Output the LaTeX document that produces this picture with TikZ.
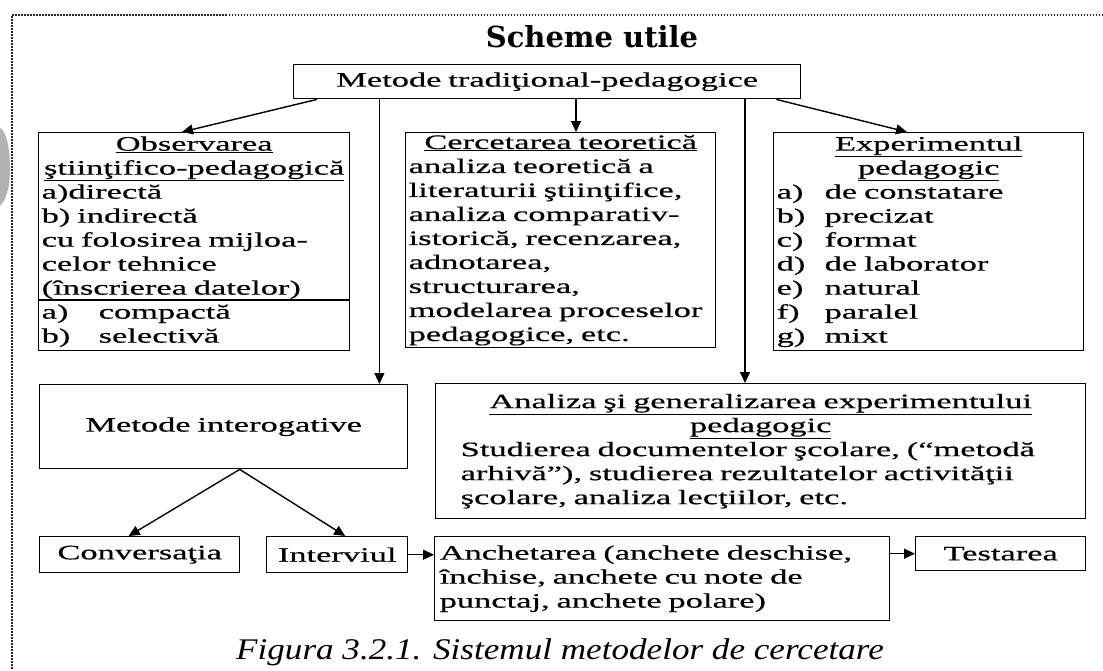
\documentclass[tikz,border=0pt]{standalone}
\usepackage{fontspec}
\usetikzlibrary{arrows.meta,calc}
\newfontfamily\bodyfont[FakeStretch=1.68,FakeBold=0.5]{Liberation Serif}
\newfontfamily\titlefont{DejaVu Serif}
\newfontfamily\capfont[FakeStretch=1.17]{Liberation Serif}
\newcommand\ctrline[1]{\makebox[\linewidth]{#1}}
\newcommand\lbl[2]{\makebox[#1][l]{#2}}

\tikzset{
  box/.style={draw, line width=1.4pt, anchor=north west, inner xsep=3pt,
    inner ysep=0pt, align=left,
    font=\bodyfont\fontsize{20.5}{24}\selectfont},
  cbox/.style={box, align=center},
  arr/.style={line width=1.4pt, -{Triangle[length=11pt,width=10pt]}},
  frame/.style={line width=1.5pt, black!85, dash pattern=on 1.5pt off 1.5pt},
}

\begin{document}
\begin{tikzpicture}[x=1pt,y=-1pt]
\useasboundingbox (0,0) rectangle (1103,670);

% page frame and margin mark
\draw[frame] (1103,15) -- (12,15) -- (12,670);
\fill[black!30] (0,128) .. controls (7,132) and (10,150) .. (10,168)
  .. controls (10,188) and (6,200) .. (0,206) -- cycle;

% title
\node[font=\titlefont\bfseries\fontsize{29}{34}\selectfont, anchor=base]
  (title) at (592,47) {Scheme utile};

% top box
\node[cbox, text width=501pt, minimum height=34pt] (top) at (293,64)
  {Metode tradiţional-pedagogice};

% first row
\node[box, text width=305pt, minimum height=218pt] (obs) at (38,132) {%
  \ctrline{\underline{Observarea}}\\
  \ctrline{\underline{ştiinţifico-pedagogică}}\\
  a)directă\\
  b) indirectă\\
  cu folosirea mijloa-\\
  celor tehnice\\
  (înscrierea datelor)\\
  \lbl{57pt}{a)}compactă\\
  \lbl{57pt}{b)}selectivă};
\draw[line width=1.4pt] (obs.west |- 0,300) -- (obs.east |- 0,300);

\node[box, text width=304pt, minimum height=215pt] (cer) at (405,132) {%
  \ctrline{\underline{Cercetarea teoretică}}\\
  analiza teoretică a\\
  literaturii ştiinţifice,\\
  analiza comparativ-\\
  istorică, recenzarea,\\
  adnotarea,\\
  structurarea,\\
  modelarea proceselor\\
  pedagogice, etc.};

\node[box, text width=304pt, minimum height=218pt] (exp) at (773,132) {%
  \ctrline{\underline{Experimentul}}\\
  \ctrline{\underline{pedagogic}}\\
  \lbl{48pt}{a)}de constatare\\
  \lbl{48pt}{b)}precizat\\
  \lbl{48pt}{c)}format\\
  \lbl{48pt}{d)}de laborator\\
  \lbl{48pt}{e)}natural\\
  \lbl{48pt}{f)}paralel\\
  \lbl{48pt}{g)}mixt};

% second row
\node[cbox, text width=362pt, minimum height=84pt] (inter) at (39,384)
  {Metode interogative};

\node[box, inner xsep=25pt, text width=600pt, minimum height=135pt] (ana) at (435,383) {%
  \ctrline{\underline{Analiza şi generalizarea experimentului}}\\
  \ctrline{\underline{pedagogic}}\\
  Studierea documentelor şcolare, (“metodă\\
  arhivă”), studierea rezultatelor activităţii\\
  şcolare, analiza lecţiilor, etc.};

% third row
\node[cbox, text width=194pt, minimum height=36pt] (conv) at (39,536) {Conversaţia};
\node[cbox, text width=135pt, minimum height=36pt] (intv) at (266,536) {Interviul};
\node[box, inner xsep=5pt, text width=445pt, minimum height=84pt] (anch) at (434,536) {%
  Anchetarea (anchete deschise,\\
  închise, anchete cu note de\\
  punctaj, anchete polare)};
\node[cbox, text width=164pt, minimum height=34pt] (test) at (915,536) {Testarea};

% connectors
\coordinate (iin) at ($(inter.north east)+(-29,0)$);
\coordinate (cin) at ($(cer.north west)+(171,0)$);
\coordinate (ain) at ($(ana.north west)+(310,0)$);
\coordinate (isp) at ($(inter.south)+(16,0)$);

\draw[arr] ($(top.south west)+(24,0)$) -- ($(obs.north west)+(144,0)$);
\draw[arr] (top.south -| iin) -- (iin);
\draw[arr] (top.south -| cin) -- (cin);
\draw[arr] (top.south -| ain) -- (ain);
\draw[arr] ($(top.south east)+(-25,0)$) -- ($(exp.north west)+(134,0)$);

\draw[arr] (isp) -- ($(conv.north)+(-11,0)$);
\draw[arr] (isp) -- ($(intv.north)+(8,0)$);
\draw[arr] (intv.east) -- (intv.east -| anch.west);
\draw[arr] (test.west -| anch.east) -- (test.west);

% caption
\node[font=\capfont\itshape\fontsize{30}{36}\selectfont, anchor=base]
  (cap) at (560,659) {Figura 3.2.1. Sistemul metodelor de cercetare};
\end{tikzpicture}
\end{document}
